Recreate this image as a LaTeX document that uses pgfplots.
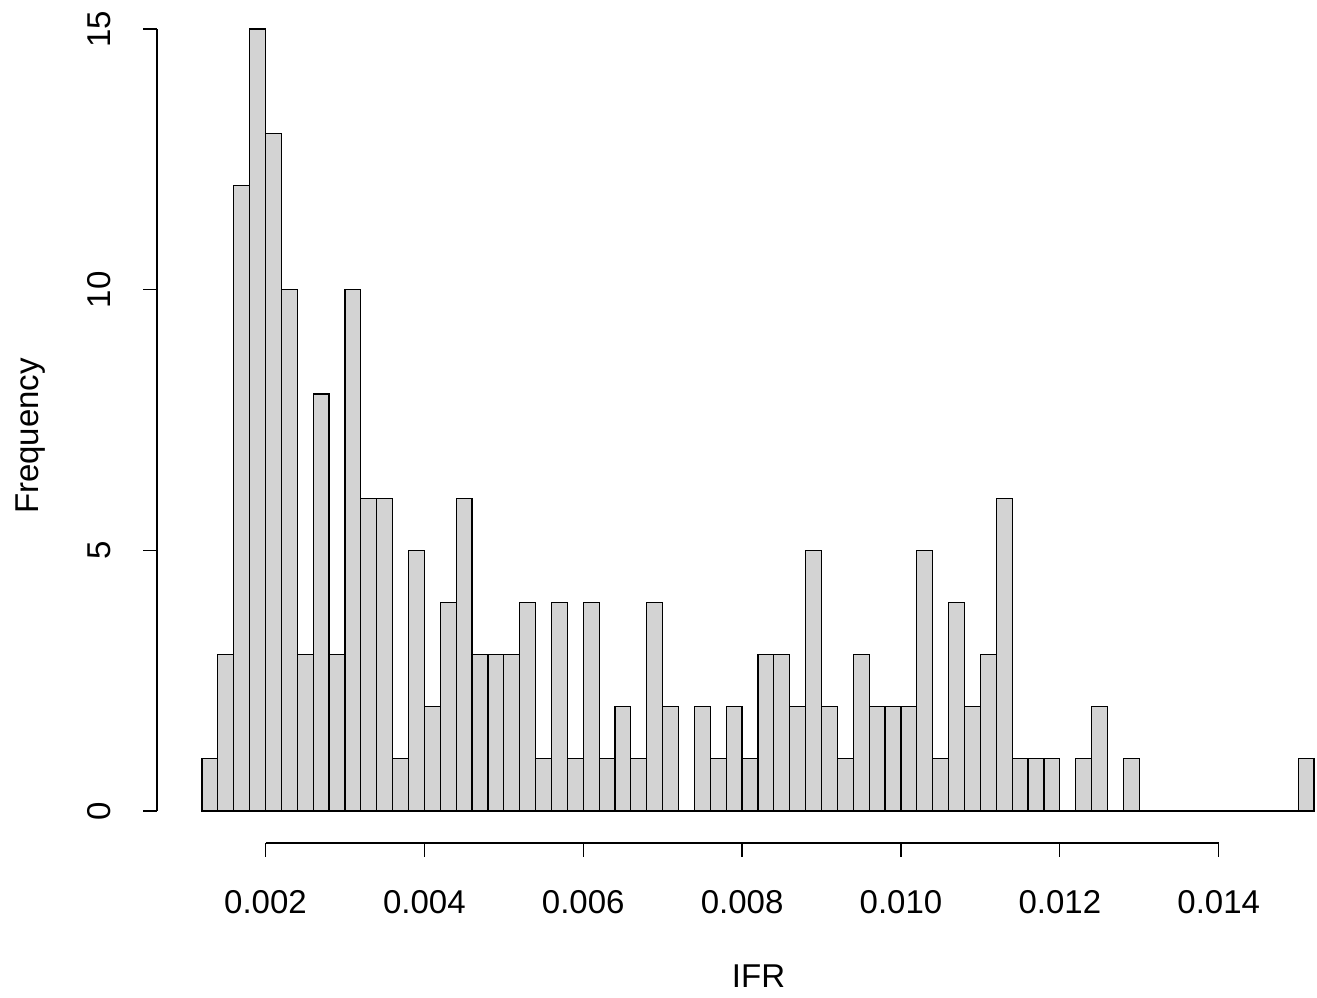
\documentclass[border=0pt]{standalone}
\usepackage{pgfplots}
\pgfplotsset{compat=1.18}
\usepackage{fontspec}
\setmainfont{Liberation Sans}
\definecolor{lg}{HTML}{D3D3D3}
\tikzset{tl/.style={font=\fontsize{16.5}{18}\selectfont}}
\begin{document}
\begin{tikzpicture}
\begin{axis}[name=ax, scale only axis, width=578.5pt, height=407pt,
  xmin=0.000634, xmax=0.0152, ymin=-0.614, ymax=15,
  axis lines=none, clip=false]
\addplot[ybar interval, fill=lg, draw=black, line width=0.6pt] table {
x y
0.0012 1
0.0014 3
0.0016 12
0.0018 15
0.0020 13
0.0022 10
0.0024 3
0.0026 8
0.0028 3
0.0030 10
0.0032 6
0.0034 6
0.0036 1
0.0038 5
0.0040 2
0.0042 4
0.0044 6
0.0046 3
0.0048 3
0.0050 3
0.0052 4
0.0054 1
0.0056 4
0.0058 1
0.0060 4
0.0062 1
0.0064 2
0.0066 1
0.0068 4
0.0070 2
0.0072 0
0.0074 2
0.0076 1
0.0078 2
0.0080 1
0.0082 3
0.0084 3
0.0086 2
0.0088 5
0.0090 2
0.0092 1
0.0094 3
0.0096 2
0.0098 2
0.0100 2
0.0102 5
0.0104 1
0.0106 4
0.0108 2
0.0110 3
0.0112 6
0.0114 1
0.0116 1
0.0118 1
0.0120 0
0.0122 1
0.0124 2
0.0126 0
0.0128 1
0.0130 0
0.0132 0
0.0134 0
0.0136 0
0.0138 0
0.0140 0
0.0142 0
0.0144 0
0.0146 0
0.0148 0
0.0150 1
0.0152 1
};
\draw[line width=0.6pt] (axis cs:0.002,-0.614) -- (axis cs:0.014,-0.614);
\pgfplotsinvokeforeach{0.002,0.004,0.006,0.008,0.010,0.012,0.014}{
  \draw[line width=0.6pt] (axis cs:#1,-0.614) -- ([yshift=-7pt]axis cs:#1,-0.614);
  \node[tl, anchor=base] at ([yshift=-35pt]axis cs:#1,-0.614) {#1};
}
\draw[line width=0.6pt] (axis cs:0.000634,0) -- (axis cs:0.000634,15);
\pgfplotsinvokeforeach{0,5,10,15}{
  \draw[line width=0.6pt] (axis cs:0.000634,#1) -- ([xshift=-7pt]axis cs:0.000634,#1);
  \node[tl, rotate=90, anchor=base] at ([xshift=-23pt]axis cs:0.000634,#1) {#1};
}
\end{axis}
\node[tl, anchor=base] at ([yshift=-72pt,xshift=11.5pt]ax.south) {IFR};
\node[tl, rotate=90, anchor=base] at ([xshift=-59pt]ax.west) {Frequency};
\useasboundingbox ([xshift=-78.5pt,yshift=-77pt]ax.south west) rectangle ([xshift=1.5pt,yshift=14.5pt]ax.north east);
\end{tikzpicture}
\end{document}
